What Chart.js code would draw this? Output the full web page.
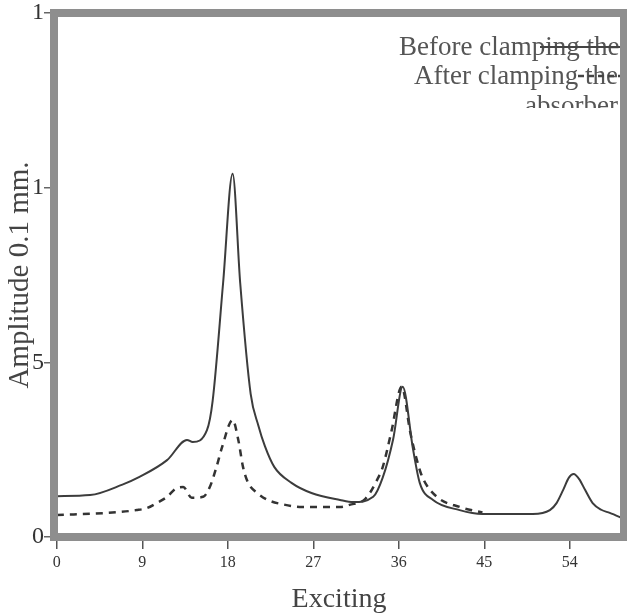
<!DOCTYPE html>
<html>
<head>
<meta charset="utf-8">
<script src="https://cdn.jsdelivr.net/npm/chart.js@4"></script>
<style>
  body { margin: 0; background: #fff; }
</style>
</head>
<body>
<canvas id="chart" width="627" height="616"></canvas>
<script>
// values
const beforeX = [0, 3.5, 6.9, 8.7, 11.6, 13.7, 14.3, 15.8, 16.4, 17.5, 18.5, 19.3, 20.4, 21.2, 21.9, 22.9, 24.7, 26.8, 29.8, 31.2, 33.3, 34.3, 35.4, 36.4, 37.5, 38.2, 39.6, 42.4, 44.8, 50.1, 51.9, 52.6, 53.3, 53.9, 54.4, 55.0, 55.6, 56.4, 57.3, 58.2, 59.7];
const beforeY = [0.117, 0.12, 0.15, 0.172, 0.22, 0.278, 0.272, 0.306, 0.39, 0.727, 1.04, 0.727, 0.41, 0.32, 0.26, 0.2, 0.155, 0.126, 0.106, 0.1, 0.115, 0.17, 0.28, 0.43, 0.25, 0.155, 0.106, 0.077, 0.066, 0.066, 0.077, 0.097, 0.135, 0.17, 0.18, 0.165, 0.135, 0.097, 0.078, 0.069, 0.052];
const afterX = [0, 5.3, 8.4, 9.5, 10.5, 11.6, 12.6, 13.3, 14.2, 15.4, 16.1, 16.8, 17.4, 18.5, 19.1, 19.6, 20.1, 21.1, 22.2, 23.7, 25.8, 27.7, 29.8, 30.8, 32.5, 33.7, 34.3, 35.2, 36.3, 37.2, 37.9, 38.5, 40, 42.4, 44.8];
const afterY = [0.063, 0.069, 0.077, 0.083, 0.097, 0.115, 0.14, 0.143, 0.112, 0.115, 0.143, 0.2, 0.258, 0.335, 0.278, 0.2, 0.157, 0.126, 0.106, 0.094, 0.086, 0.086, 0.086, 0.092, 0.11, 0.163, 0.2, 0.3, 0.43, 0.3, 0.22, 0.17, 0.115, 0.086, 0.07];

const xTicks = [0, 9, 18, 27, 36, 45, 54];
const yTicks = [0, 0.5, 1, 1.5];
const yTickLabels = ["0", "5", "1", "1"];
const legendLabels = ["Before clamping the", "After clamping the", "absorber"];

const SERIF = "'Liberation Serif', 'DejaVu Serif', serif";

function toPoints(xs, ys) {
  return xs.map((x, i) => ({ x: x, y: ys[i] }));
}

// legend text (clipped like the scan) and the thick grey frame
const framePlugin = {
  id: "frame",
  afterDatasetsDraw(chart) {
    const { ctx, chartArea: a } = chart;
    ctx.save();
    ctx.beginPath();
    ctx.rect(a.left, a.top, a.right - a.left - 3, 108 - a.top);
    ctx.clip();
    ctx.fillStyle = "#555";
    ctx.font = "27px " + SERIF;
    ctx.textBaseline = "middle";
    ctx.fillText(legendLabels[0], 399, 48);
    ctx.fillText(legendLabels[1], 414, 77);
    ctx.fillText(legendLabels[2], 525, 107);
    // legend samples
    ctx.strokeStyle = "#444";
    ctx.lineWidth = 2;
    ctx.beginPath();
    ctx.moveTo(540, 47);
    ctx.lineTo(622, 47);
    ctx.stroke();
    ctx.setLineDash([6, 4]);
    ctx.lineWidth = 2.5;
    ctx.beginPath();
    ctx.moveTo(578, 76);
    ctx.lineTo(622, 76);
    ctx.stroke();
    ctx.restore();

    ctx.save();
    ctx.strokeStyle = "#8e8e8e";
    ctx.lineWidth = 8;
    ctx.strokeRect(a.left, a.top, a.right - a.left, a.bottom - a.top);
    ctx.restore();
  },
};

new Chart(document.getElementById("chart"), {
  type: "line",
  data: {
    datasets: [
      {
        label: "Before clamping the absorber",
        data: toPoints(beforeX, beforeY),
        borderColor: "#3c3c3c",
        borderWidth: 2,
        pointRadius: 0,
        cubicInterpolationMode: "monotone",
      },
      {
        label: "After clamping the absorber",
        data: toPoints(afterX, afterY),
        borderColor: "#333",
        borderWidth: 2.5,
        borderDash: [7, 6],
        pointRadius: 0,
        cubicInterpolationMode: "monotone",
      },
    ],
  },
  options: {
    responsive: false,
    animation: false,
    layout: { padding: { left: 0, right: 3, top: 13, bottom: 2 } },
    plugins: {
      legend: { display: false },
      tooltip: { enabled: false },
    },
    scales: {
      x: {
        type: "linear",
        min: -0.3,
        max: 59.7,
        afterBuildTicks: (s) => { s.ticks = xTicks.map((v) => ({ value: v })); },
        afterFit: (s) => { s.height = 77; },
        grid: { drawOnChartArea: false, tickLength: 12, color: "#555", lineWidth: 1.5 },
        border: { display: false },
        ticks: {
          color: "#333",
          padding: 4,
          maxRotation: 0,
          font: { family: SERIF, size: 16 },
        },
        title: {
          display: true,
          text: "Exciting",
          color: "#444",
          padding: 0,
          font: { family: SERIF, size: 28, lineHeight: 1 },
        },
      },
      y: {
        type: "linear",
        min: 0,
        max: 1.5,
        afterBuildTicks: (s) => { s.ticks = yTicks.map((v) => ({ value: v })); },
        afterFit: (s) => { s.width = 54; },
        grid: { drawOnChartArea: false, tickLength: 10, color: "#666", lineWidth: 1.5 },
        border: { display: false },
        ticks: {
          color: "#333",
          padding: 0,
          font: { family: SERIF, size: 24, lineHeight: 1 },
          callback: (v, i) => yTickLabels[i],
        },
        title: {
          display: true,
          text: "Amplitude 0.1 mm.",
          color: "#444",
          padding: { top: 6, bottom: 0 },
          font: { family: SERIF, size: 29, lineHeight: 1 },
        },
      },
    },
  },
  plugins: [framePlugin],
});
</script>
</body>
</html>
